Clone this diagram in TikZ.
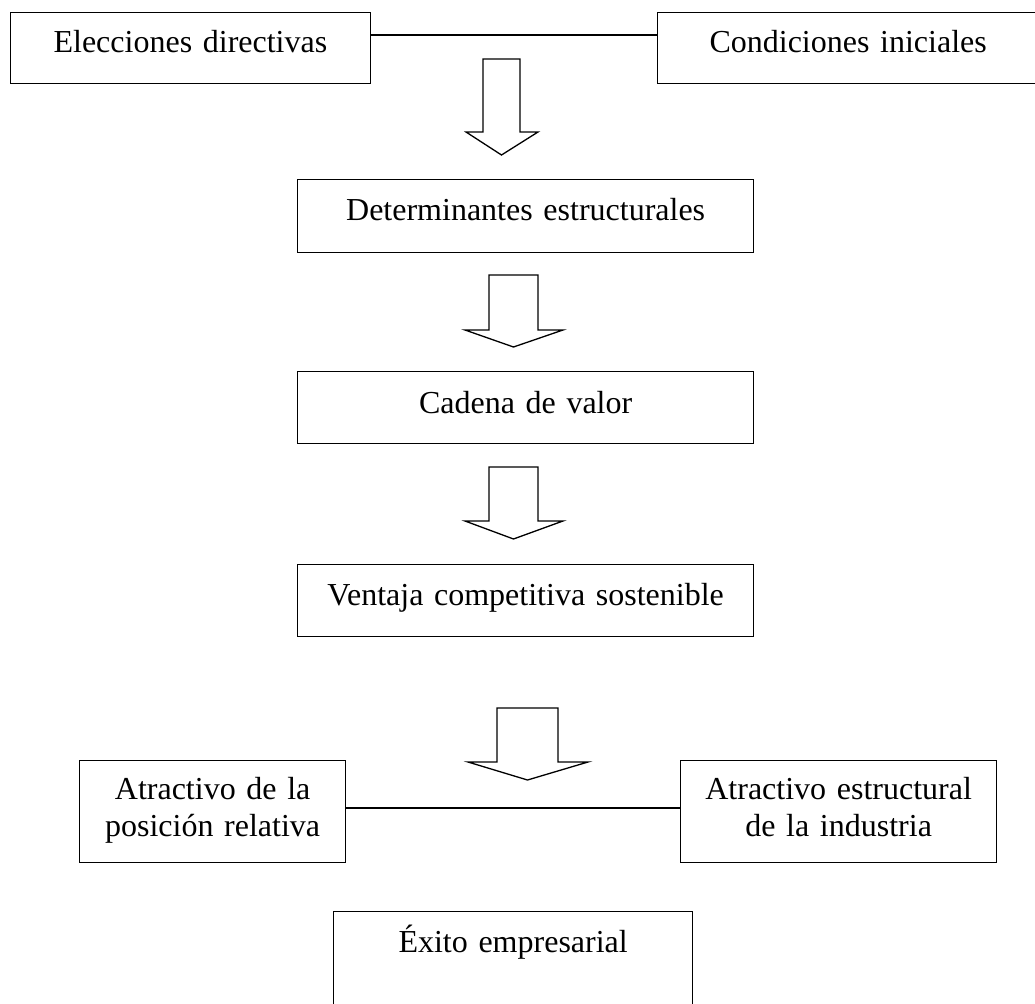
\documentclass[tikz,border=0pt]{standalone}
\usepackage{fontspec}
\setmainfont{Liberation Serif}
\begin{document}
\begin{tikzpicture}[x=1pt,y=-1pt,
  every node/.style={font=\fontsize{32}{37}\selectfont},
  box/.style={draw=black, line width=1.3pt, inner sep=0pt, align=center,
    anchor=north west, text height=#1},
  box/.default=40pt,
  link/.style={draw=black, line width=1.3pt},
  blockarr/.style={draw=black, fill=white, line width=1.3pt, line join=miter}]

% page area
\useasboundingbox (0,0) rectangle (1035,1003);
\clip (0,0) rectangle (1035,1003);
\fill[white] (0,0) rectangle (1035,1003);

% hollow down arrow: shaft left/right, top, head left/right, base, tip y
\newcommand\downblock[7]{%
  \path[blockarr] (#1,#3) -- (#1,#6) -- (#4,#6) -- ({(#1+#2)/2},#7)
    -- (#5,#6) -- (#2,#6) -- (#2,#3) -- cycle;}

% top row
\node[box, text width=360.5pt, text depth=31pt] (elec) at (9.5,12) {Elecciones directivas};
\node[box, text width=381pt, text depth=31pt] (cond) at (657,12) {Condiciones iniciales};
\coordinate (toprow) at (0,35);
\draw[link] (elec.east |- toprow) -- (cond.west |- toprow);

\downblock{483}{520}{59}{466}{538}{132}{155}

% central chain
\node[box=41pt, text width=456pt, text depth=32pt] (det) at (297,179) {Determinantes estructurales};
\downblock{489}{538}{275}{465}{563}{330}{347}
\node[box=42pt, text width=456pt, text depth=30pt] (cad) at (297,371) {Cadena de valor};
\downblock{489}{538}{467}{465}{563}{521}{539}
\node[box=41pt, text width=456pt, text depth=31pt] (vent) at (297,564) {Ventaja competitiva sostenible};
\downblock{497}{558}{708}{468}{588}{762}{780}

% lower row
\node[box=39pt, text width=266pt, text depth=63pt] (pos) at (79,760) {Atractivo de la\\posición relativa};
\node[box=39pt, text width=316pt, text depth=63pt] (ind) at (680,760) {Atractivo estructural\\de la industria};
\coordinate (lowrow) at (0,808);
\draw[link] (pos.east |- lowrow) -- (ind.west |- lowrow);

% outcome
\node[box=41pt, text width=359pt, text depth=120pt] (exito) at (333,911) {Éxito empresarial};
\end{tikzpicture}
\end{document}
